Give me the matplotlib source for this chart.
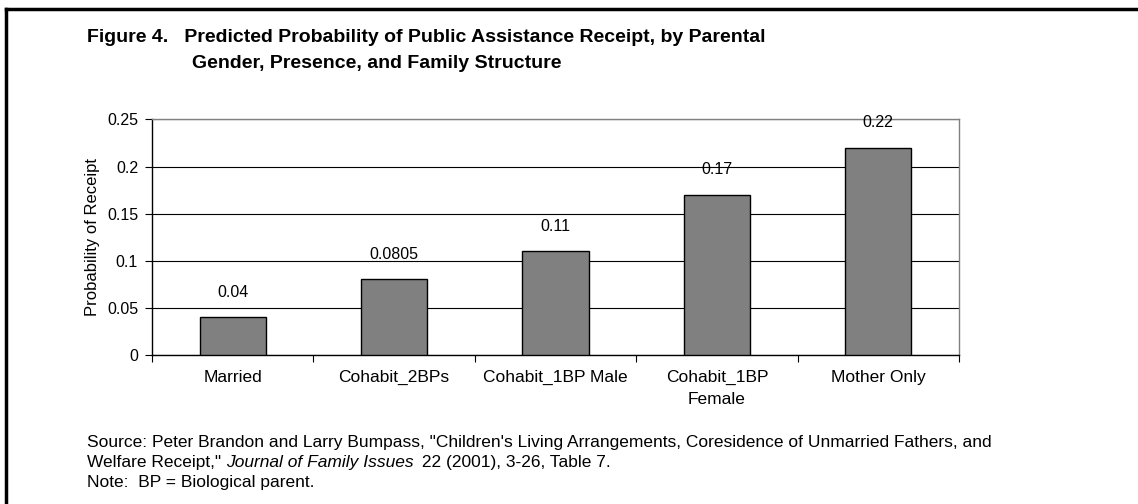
import matplotlib
matplotlib.use("Agg")
import matplotlib.pyplot as plt
from matplotlib.lines import Line2D

plt.rcParams['font.family'] = ['Liberation Sans', 'DejaVu Sans']

categories = ['Married', 'Cohabit_2BPs', 'Cohabit_1BP Male', 'Cohabit_1BP\nFemale', 'Mother Only']
values = [0.04, 0.0805, 0.11, 0.17, 0.22]
labels = ['0.04', '0.0805', '0.11', '0.17', '0.22']
yticks = [0, 0.05, 0.1, 0.15, 0.2, 0.25]
yticklabels = ['0', '0.05', '0.1', '0.15', '0.2', '0.25']

W, H = 1138, 504
fig = plt.figure(figsize=(W / 100, H / 100), dpi=100)
ax = fig.add_axes([152 / W, 1 - 355 / H, (959 - 152) / W, (355 - 119.4) / H])

x = list(range(len(values)))
ax.bar(x, values, width=0.41, color='#808080', edgecolor='black', linewidth=1, zorder=3)
for xi, v, lab in zip(x, values, labels):
    ax.annotate(lab, (xi, v), xytext=(0, 18), textcoords='offset points',
                ha='center', va='center', fontsize=11.5)

ax.set_xlim(-0.5, len(values) - 0.5)
ax.set_ylim(0, 0.25)
ax.set_yticks(yticks)
ax.set_yticklabels(yticklabels, fontsize=11.5)
ax.yaxis.grid(True, color='black', linewidth=0.8, zorder=0)
ax.set_axisbelow(True)

ax.set_xticks([i - 0.5 for i in range(len(values) + 1)])
ax.set_xticklabels([])
ax.set_xticks(x, minor=True)
ax.set_xticklabels(categories, minor=True, fontsize=12.5, linespacing=1.55, va='top')
ax.tick_params(axis='x', which='minor', length=0, pad=11)
ax.tick_params(axis='x', which='major', length=5, direction='out', color='black')
ax.tick_params(axis='y', length=5, direction='out', pad=5)

ax.spines['left'].set_color('black')
ax.spines['bottom'].set_color('black')
ax.spines['top'].set_color('#808080')
ax.spines['right'].set_color('#808080')
for s in ax.spines.values():
    s.set_linewidth(1)

ax.set_ylabel('Probability of Receipt', fontsize=12, labelpad=5)

# outer frame (only top and left edges fall inside the picture)
fig.add_artist(Line2D([6 / W, 1], [1 - 9 / H, 1 - 9 / H], color='black', linewidth=2.5))
fig.add_artist(Line2D([6 / W, 6 / W], [0, 1 - 9 / H], color='black', linewidth=2.5))

fig.text(87 / W, 1 - 38 / H,
         'Figure 4.   Predicted Probability of Public Assistance Receipt, by Parental',
         fontsize=14, fontweight='bold', va='center')
fig.text(192 / W, 1 - 63 / H, 'Gender, Presence, and Family Structure',
         fontsize=14, fontweight='bold', va='center')

fs = 12.5
fig.text(87 / W, 1 - 443 / H,
         'Source: Peter Brandon and Larry Bumpass, "Children\'s Living Arrangements, '
         'Coresidence of Unmarried Fathers, and', fontsize=fs, va='center')

# second source line with italic journal title
fig.canvas.draw()
r = fig.canvas.get_renderer()
y2 = 1 - 462 / H
t1 = fig.text(87 / W, y2, 'Welfare Receipt," ', fontsize=fs, va='center')
w1 = t1.get_window_extent(r).width
t2 = fig.text((87 + w1) / W, y2, 'Journal of Family Issues', fontsize=fs,
              style='italic', va='center')
w2 = t2.get_window_extent(r).width
fig.text((87 + w1 + w2 + 3) / W, y2, ' 22 (2001), 3-26, Table 7.', fontsize=fs, va='center')

fig.text(87 / W, 1 - 482 / H, 'Note:  BP = Biological parent.', fontsize=fs, va='center')

fig.savefig('out.png', dpi=100)
